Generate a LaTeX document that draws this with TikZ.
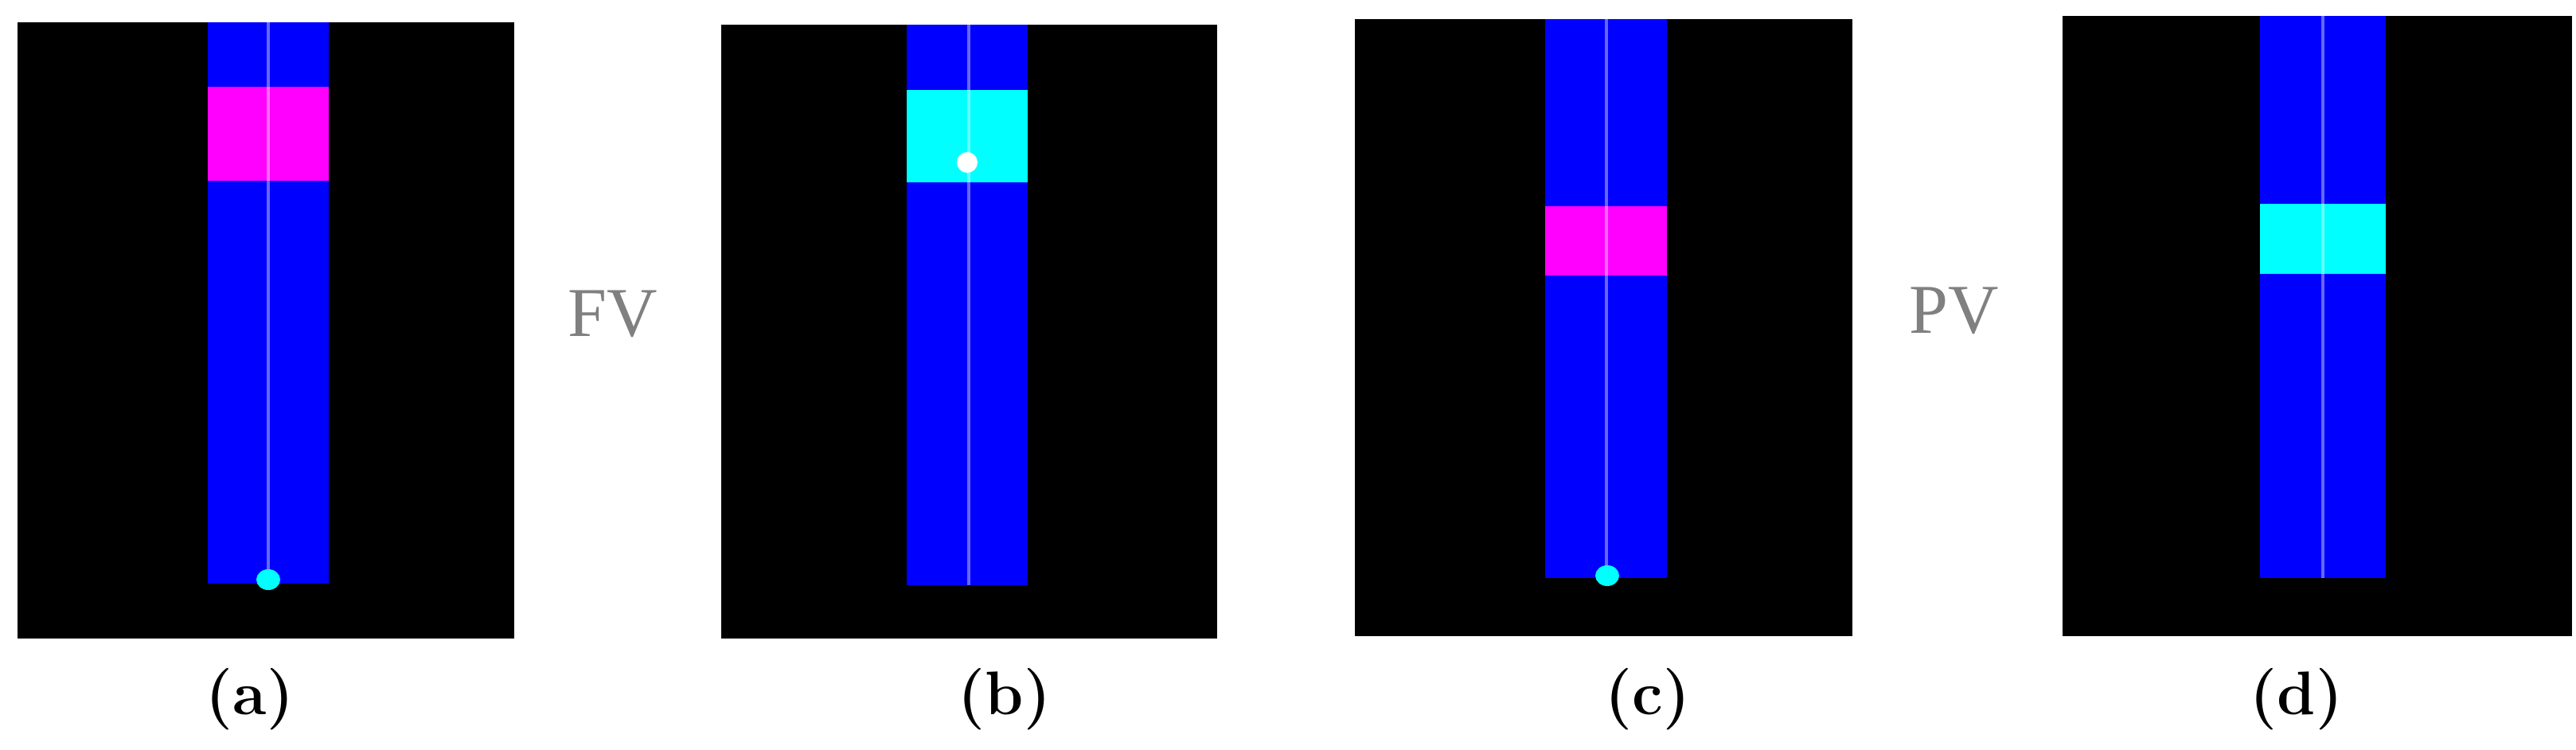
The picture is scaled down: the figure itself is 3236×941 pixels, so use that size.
\documentclass[tikz,border=0pt]{standalone}
\usepackage{fontspec}
\newfontfamily\labelserif{Liberation Serif}
\begin{document}
\begin{tikzpicture}[x=0.01cm,y=-0.01cm,
  panel/.style={fill=black},
  column/.style={fill={rgb,255:red,0;green,0;blue,255}},
  midline/.style={draw=white,draw opacity=0.4,line width=1.3pt},
  magbar/.style={fill={rgb,255:red,255;green,0;blue,255}},
  cyanbar/.style={fill={rgb,255:red,0;green,255;blue,255}},
  caption/.style={font=\fontsize{22}{26}\selectfont\bfseries},
  midlabel/.style={font=\labelserif\fontsize{25}{30}\selectfont, text=black!50}]
\useasboundingbox[fill=white] (0,0) rectangle (3236,941);
% (a)
\fill[panel] (22,28) rectangle (646,802);
\fill[column] (261,28) rectangle (413,733);
\fill[magbar] (261,109) rectangle (413,227);
\draw[midline] (337,28) -- (337,727);
\fill[cyanbar] (337,728) ellipse (15 and 13);
\node[caption] (la) at (314,878) {(a)};
% FV
\node[midlabel] (fv) at (770,394) {FV};
% (b)
\fill[panel] (906,31) rectangle (1529,802);
\fill[column] (1139,31) rectangle (1291,735);
\fill[cyanbar] (1139,113) rectangle (1291,229);
\draw[midline] (1217,31) -- (1217,735);
\fill[white] (1215,204) ellipse (13 and 13);
\node[caption] (lb) at (1262,878) {(b)};
% (c)
\fill[panel] (1702,24) rectangle (2327,799);
\fill[column] (1941,24) rectangle (2094,726);
\fill[magbar] (1941,259) rectangle (2094,346);
\draw[midline] (2018,24) -- (2018,722);
\fill[cyanbar] (2019,723) ellipse (15 and 13);
\node[caption] (lc) at (2070,878) {(c)};
% PV
\node[midlabel] (pv) at (2455,390) {PV};
% (d)
\fill[panel] (2591,20) rectangle (3231,799);
\fill[column] (2839,20) rectangle (2997,726);
\fill[cyanbar] (2839,256) rectangle (2997,344);
\draw[midline] (2918,20) -- (2918,726);
\node[caption] (ld) at (2885,878) {(d)};
\end{tikzpicture}
\end{document}
